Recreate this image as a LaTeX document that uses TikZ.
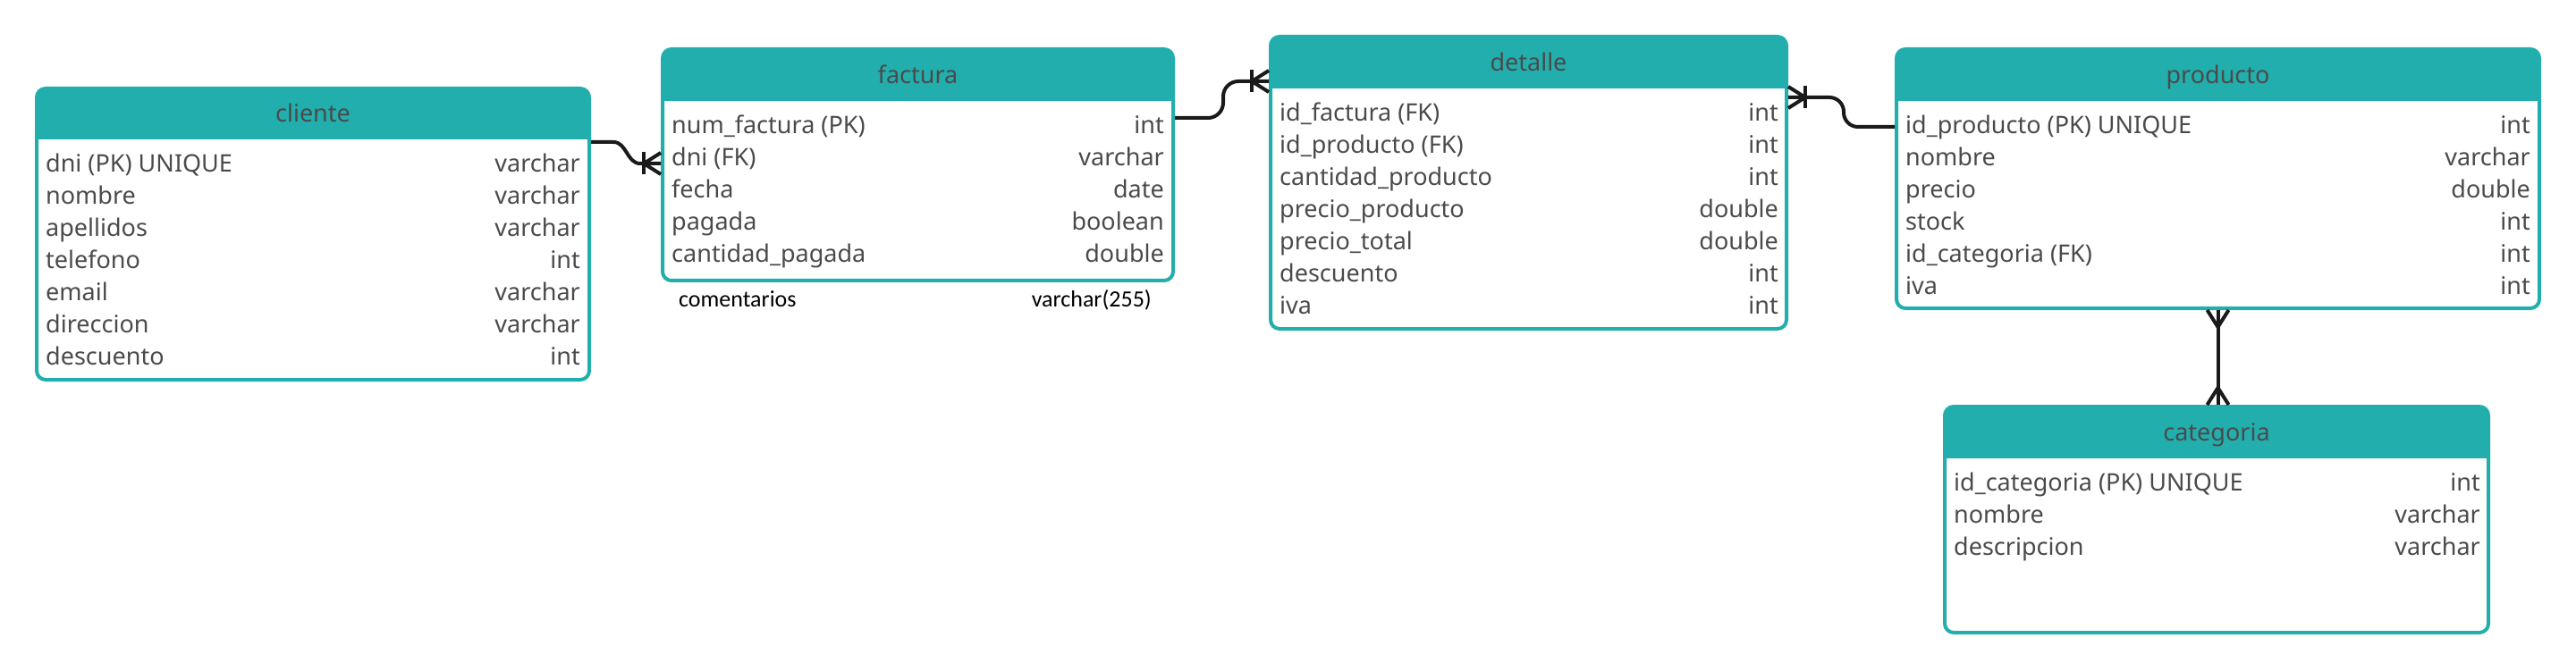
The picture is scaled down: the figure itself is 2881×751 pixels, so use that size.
\documentclass[tikz,border=0pt]{standalone}
\usepackage{fontspec}
\setmainfont{Noto Sans}
\newfontfamily\calfont{Carlito}
\usetikzlibrary{calc}
\definecolor{erteal}{HTML}{22AEAD}
\definecolor{ertext}{HTML}{4A4A4A}
\definecolor{erline}{HTML}{1A1A1A}

\newcommand\ertable[7]{%
  \node[tbox, minimum width={#4-#2-4}, minimum height={#5-#3-4}] (#1) at ({(#2+#4)/2},{(#3+#5)/2}) {};
  \begin{scope}
    \clip[rounded corners=10pt] ({#2+2},{#3+2}) rectangle ({#4-2},{#5-2});
    \fill[erteal] (#2,#3) rectangle (#4,#6);
  \end{scope}
  \node[ttitle, anchor=base] (#1-title) at ({(#2+#4)/2},{#6-19.5}) {#7};
}
\newcommand\errows[5]{%
  \foreach \nm/\ty [count=\i] in {#5} {
    \node[fld, anchor=base west] (#1n\i) at ({#2},{#4+9.5+36*(\i-1)}) {\nm};
    \node[fld, anchor=base east] (#1t\i) at ({#3},{#4+9.5+36*(\i-1)}) {\ty};
  }%
}
\newcommand\crowfoot[3]{%
  \begin{scope}[shift={(#1)}, rotate=#2]
    \draw[conn] (0,-12) -- (-19,0) -- (0,12);
    \draw[conn] (-19,0) -- (0,0);
    \ifnum#3=1 \draw[conn] (-19,-12.5) -- (-19,12.5);\fi
  \end{scope}%
}

\begin{document}
\begin{tikzpicture}[x=1pt,y=-1pt,
  tbox/.style={draw=erteal, fill=white, line width=4pt, rounded corners=10pt, inner sep=0pt},
  ttitle/.style={text=ertext, inner sep=0pt, font=\fontsize{27}{32}\selectfont},
  fld/.style={text=ertext, inner sep=0pt, font=\fontsize{27}{32}\selectfont},
  note/.style={text=black, inner sep=0pt, font=\calfont\fontsize{26}{31}\selectfont},
  conn/.style={draw=erline, line width=4pt, line join=round},
]
\useasboundingbox (0,0) rectangle (2881,751);

% tables
\ertable{cliente}{39}{97}{661}{427}{156}{cliente}
\errows{cl}{51}{649}{183}{dni (PK) UNIQUE/varchar, nombre/varchar, apellidos/varchar, telefono/int, email/varchar, direccion/varchar, descuento/int}

\ertable{factura}{739}{53}{1314}{316}{113}{factura}
\errows{fa}{751}{1302}{140}{num\_factura (PK)/int, dni (FK)/varchar, fecha/date, pagada/boolean, cantidad\_pagada/double}
\node[note, anchor=base west] (com1) at (759,344) {comentarios};
\node[note, anchor=base east] (com2) at (1288,344) {varchar(255)};

\ertable{detalle}{1419}{39}{2000}{370}{99}{detalle}
\errows{de}{1431}{1989}{126}{id\_factura (FK)/int, id\_producto (FK)/int, cantidad\_producto/int, precio\_producto/double, precio\_total/double, descuento/int, iva/int}

\ertable{producto}{2119}{53}{2842}{347}{113}{producto}
\errows{pr}{2131}{2830}{140}{id\_producto (PK) UNIQUE/int, nombre/varchar, precio/double, stock/int, id\_categoria (FK)/int, iva/int}

\ertable{categoria}{2173}{453}{2785}{710}{513}{categoria}
\errows{ca}{2185}{2774}{540}{id\_categoria (PK) UNIQUE/int, nombre/varchar, descripcion/varchar}

% connectors
\coordinate (k1a) at (0,159);
\coordinate (k1b) at (0,183);
\draw[conn] (cliente.east |- k1a) -- (686,159) .. controls (701,159) and (701,183) .. (716,183) -- (factura.west |- k1b);
\crowfoot{factura.west |- k1b}{0}{1}

\coordinate (k2a) at (0,132);
\coordinate (k2b) at (0,91);
\draw[conn, rounded corners=17pt] (factura.east |- k2a) -- (1368,132) -- (1368,91) -- (detalle.west |- k2b);
\crowfoot{detalle.west |- k2b}{0}{1}

\coordinate (k3a) at (0,109);
\coordinate (k3b) at (0,142);
\draw[conn, rounded corners=16pt] (detalle.east |- k3a) -- (2062,109) -- (2062,142) -- (producto.west |- k3b);
\crowfoot{detalle.east |- k3a}{180}{1}

\draw[conn] (producto.south) -- (producto.south |- categoria.north);
\crowfoot{producto.south}{90}{0}
\crowfoot{producto.south |- categoria.north}{-90}{0}
\end{tikzpicture}
\end{document}
